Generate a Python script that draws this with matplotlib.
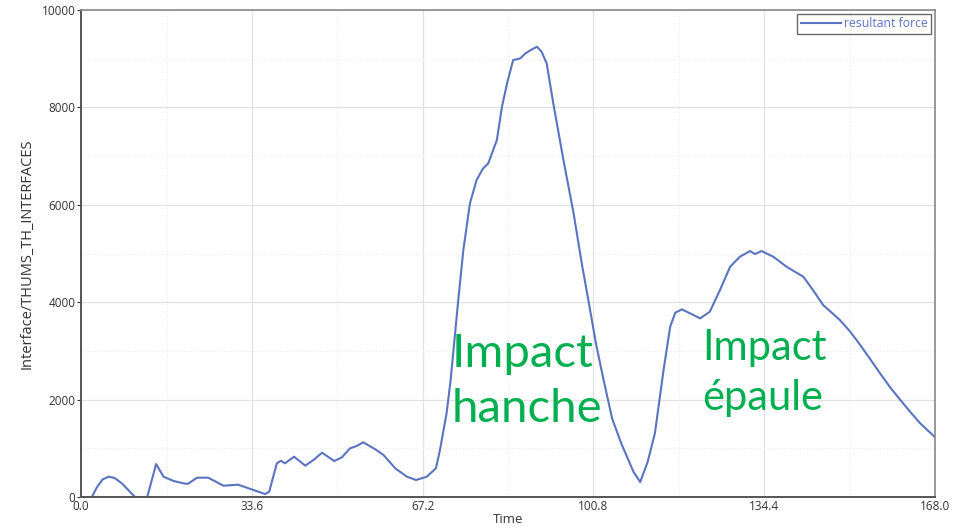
import matplotlib.pyplot as plt
from matplotlib.ticker import MultipleLocator

# values
time = [0, 2.1, 3.1, 4.2, 5.4, 6.6, 8.0, 10.6, 13.0, 13.9, 14.75, 16.2, 18.2, 20.1, 21.0,
        22.8, 25.0, 28.0, 30.9, 33.9, 36.2, 37.0, 38.5, 39.3, 40.1, 41.9, 44.1,
        45.7, 47.4, 49.8, 51.3, 52.9, 54.2, 55.5, 57.8, 59.5, 61.8, 64.1, 65.9,
        68.0, 69.8, 70.6, 71.9, 72.7, 74.2, 75.2, 76.5, 77.8, 79.1, 80.1, 81.8,
        82.8, 83.8, 85.0, 86.4, 87.4, 88.7, 89.7, 90.6, 91.6, 92.9, 94.9, 96.9,
        98.5, 99.8, 101.3, 102.8, 104.5, 106.3, 108.7, 110.0, 111.5, 112.9, 114.6,
        115.9, 116.9, 118.2, 119.8, 121.8, 123.7, 125.7, 127.7, 129.6, 131.6,
        132.6, 133.9, 136.2, 138.8, 142.1, 144.0, 146.0, 149.3, 151.3, 153.3, 155.2,
        157.2, 159.2, 161.2, 163.2, 165.1, 168.0]
force = [0, 0, 200, 360, 417, 390, 281, 0, 0, 349, 678, 417, 329, 281, 270,
         397, 397, 232, 253, 144, 62, 109, 692, 745, 692, 828, 643,
         760, 910, 739, 815, 1000, 1047, 1123, 985, 862, 589, 417, 349,
         417, 589, 965, 1719, 2402, 4045, 5072, 6031, 6509, 6749, 6852, 7331,
         8014, 8495, 8973, 9008, 9111, 9193, 9247, 9144, 8905, 8084, 6920, 5825,
         4799, 4045, 3150, 2402, 1604, 1094, 513, 308, 731, 1312, 2608,
         3497, 3784, 3854, 3772, 3669, 3805, 4251, 4729, 4934, 5051,
         4990, 5051, 4934, 4729, 4524, 4250, 3943, 3634, 3400, 3121, 2840,
         2540, 2250, 1992, 1740, 1513, 1230]

x_ticks = [0.0, 33.6, 67.2, 100.8, 134.4, 168.0]
y_ticks = [0, 2000, 4000, 6000, 8000, 10000]

line_color = '#5a74c2'
green = '#00b050'

plt.rcParams['font.family'] = ['Open Sans', 'DejaVu Sans']

fig = plt.figure(figsize=(9.55, 5.31), dpi=100)
ax = fig.add_axes([0.085, 0.064, 0.894, 0.917])

ax.plot(time, force, color=line_color, lw=1.5, label='resultant force')

ax.set_xlim(0, 168)
ax.set_ylim(0, 10000)
ax.set_xticks(x_ticks)
ax.set_xticklabels(['%.1f' % v for v in x_ticks])
ax.set_yticks(y_ticks)
ax.xaxis.set_minor_locator(MultipleLocator(16.8))
ax.yaxis.set_minor_locator(MultipleLocator(1000))
ax.grid(which='major', color='#e2e2e2', lw=0.9)
ax.grid(which='minor', color='#ececec', lw=0.9, ls=':')
ax.set_axisbelow(True)
ax.tick_params(which='minor', length=0)
ax.tick_params(axis='both', labelsize=8.5, colors='#333333', length=3, pad=1)
ax.tick_params(axis='x', length=0, pad=2)

for s in ['left', 'bottom']:
    ax.spines[s].set_color('#555555')
    ax.spines[s].set_linewidth(1.4)
for s in ['top', 'right']:
    ax.spines[s].set_color('#888888')
    ax.spines[s].set_linewidth(1.2)

ax.set_xlabel('Time', fontsize=9.5, color='#333333', labelpad=0)
ax.set_ylabel('Interface/THUMS_TH_INTERFACES', fontsize=10.5, color='#333333', labelpad=5)

leg = ax.legend(loc='upper right', fontsize=8.8, frameon=True, fancybox=False,
                handlelength=3.3, handletextpad=0.2, borderpad=0.3,
                borderaxespad=0.3, labelcolor=line_color)
leg.get_frame().set_edgecolor('#444444')
leg.get_frame().set_linewidth(1.0)

ax.text(72.8, 1540, 'Impact\nhanche', color=green, fontsize=34, family='Lato',
        linespacing=1.38, va='baseline', ha='left')
ax.text(122.2, 1790, 'Impact\népaule', color=green, fontsize=30, family='Lato',
        linespacing=1.38, va='baseline', ha='left')

fig.savefig('out.png')
